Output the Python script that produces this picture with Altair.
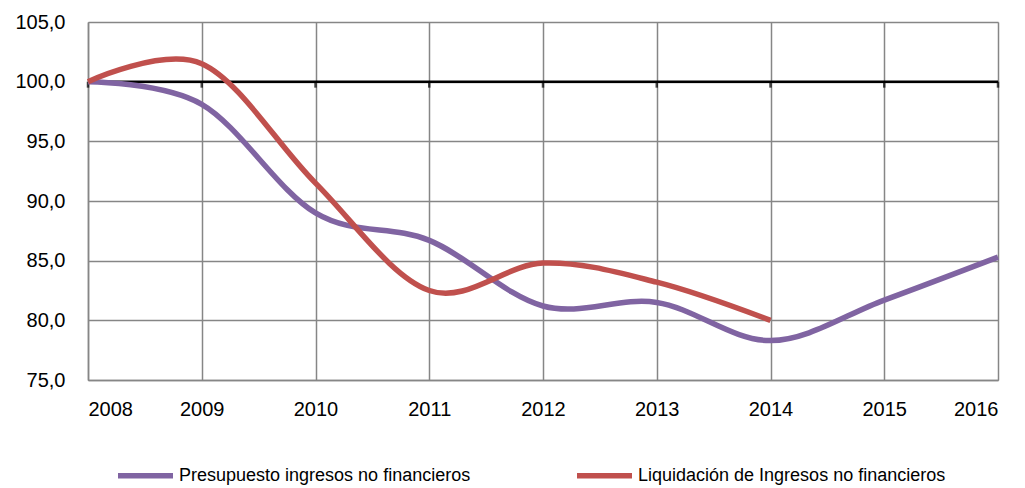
import altair as alt
import pandas as pd

years = [2008, 2009, 2010, 2011, 2012, 2013, 2014, 2015, 2016]
presupuesto = [100.0, 98.1, 89.0, 86.7, 81.2, 81.5, 78.3, 81.7, 85.3]
liquidacion = [100.0, 101.5, 91.5, 82.5, 84.8, 83.2, 80.0, None, None]
series_names = ["Presupuesto ingresos no financieros", "Liquidación de Ingresos no financieros"]
series_colors = ["#8064A2", "#C0504D"]
y_ticks = [75, 80, 85, 90, 95, 100, 105]

rows = []
for yr, v in zip(years, presupuesto):
    rows.append({"year": yr, "value": v, "serie": series_names[0]})
for yr, v in zip(years, liquidacion):
    if v is not None:
        rows.append({"year": yr, "value": v, "serie": series_names[1]})
df = pd.DataFrame(rows)
base_df = pd.DataFrame({"year": years, "base": [100.0] * len(years)})

AXFONT = "Liberation Sans"

x_enc = alt.X("year:Q", scale=alt.Scale(domain=[2008, 2016], nice=False, zero=False),
              axis=alt.Axis(values=years, format="d", title=None, ticks=False, labelPadding=19,
                            labelFontSize=20, labelColor="#000", labelFont=AXFONT,
                            grid=True, gridColor="#868686", gridWidth=1.5,
                            domainColor="#868686", domainWidth=1.5))
y_enc = alt.Y("value:Q", scale=alt.Scale(domain=[75, 105], nice=False, zero=False),
              axis=alt.Axis(values=y_ticks, title=None, ticks=False, labelPadding=23,
                            labelExpr="replace(format(datum.value, '.1f'), '.', ',')",
                            labelFontSize=20, labelColor="#000", labelFont=AXFONT,
                            grid=True, gridColor="#868686", gridWidth=1.5,
                            domainColor="#868686", domainWidth=1.5))

lines = alt.Chart(df).mark_line(strokeWidth=5.5, interpolate="cardinal").encode(
    x=x_enc, y=y_enc,
    color=alt.Color("serie:N", scale=alt.Scale(domain=series_names, range=series_colors),
                    sort=series_names,
                    legend=alt.Legend(title=None, orient="none", direction="horizontal",
                                      legendX=27, legendY=423, symbolType="stroke",
                                      symbolStrokeWidth=5.5, symbolSize=3025,
                                      labelFontSize=18, labelFont=AXFONT, labelColor="#000",
                                      labelLimit=0, columnPadding=95, labelOffset=3)),
)

base_rule = alt.Chart(base_df).mark_rule(color="#000", strokeWidth=2.5).encode(
    x=alt.X("min(year):Q"), x2=alt.X2("max(year):Q"), y=alt.Y("mean(base):Q"))
ticks = alt.Chart(base_df).mark_tick(color="#000", thickness=2.5, size=6, orient="vertical", yOffset=3).encode(
    x="year:Q", y="base:Q")

chart = alt.layer(base_rule, ticks, lines).properties(
    width=910, height=358,
    autosize=alt.AutoSizeParams(type="none"),
    padding={"left": 80, "top": 14, "right": 19, "bottom": 108},
).configure_view(stroke=None).configure(background="white")

chart.save("out.html", embed_options={"renderer": "svg", "actions": False})
